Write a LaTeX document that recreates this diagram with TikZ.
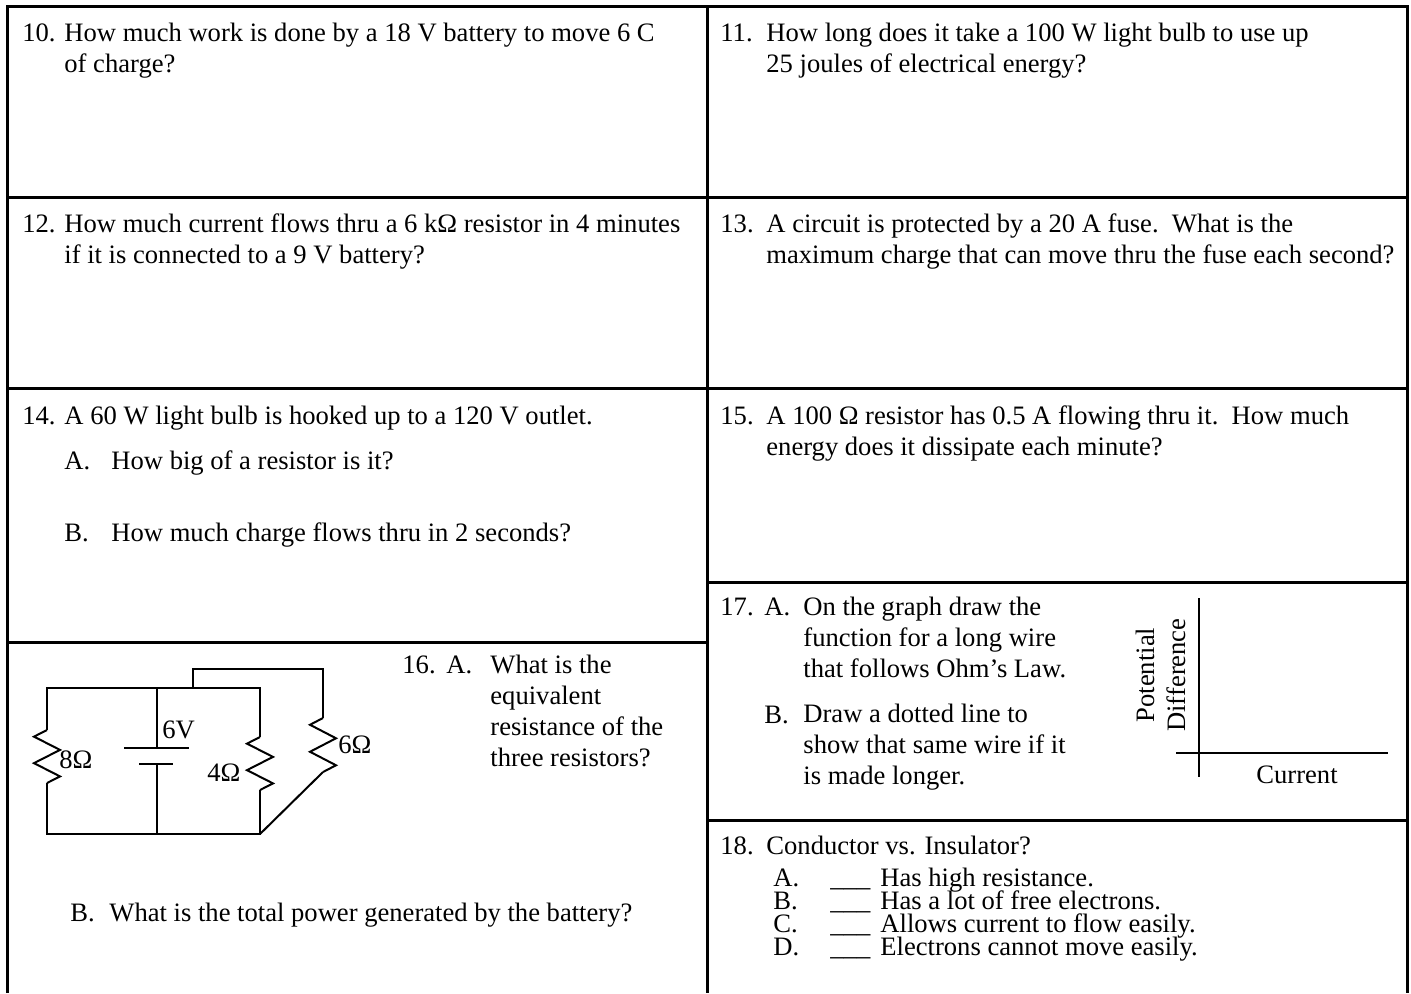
\documentclass[tikz,border=0pt]{standalone}
\usepackage{fontspec}
\setmainfont{Liberation Serif}
\usetikzlibrary{positioning}
\tikzset{
  qtext/.style = {anchor=base west, inner sep=0pt, align=left,
    font=\fontsize{13.3}{15.5}\selectfont},% question text (base = last line)
  frame/.style = {line width=1.5pt},% worksheet grid
  wire/.style = {line width=1pt, line join=miter},% circuit wires
  axis/.style = {line width=1.2pt}% graph axes
}
% zigzag resistor: x, top, bottom
\newcommand{\zigres}[3]{%
  \draw[wire] (#1,#2) -- ({#1-13},{#2+(#3-#2)/8}) -- ({#1+13},{#2+3*(#3-#2)/8})
    -- ({#1-13},{#2+5*(#3-#2)/8}) -- ({#1+13},{#2+7*(#3-#2)/8}) -- (#1,#3);}

\begin{document}
\begin{tikzpicture}[x=0.5pt,y=-0.5pt]
        \useasboundingbox (0,0) rectangle (1411,993);
        % grid
        \draw[frame] (7,993) -- (7,6) -- (1407,6) -- (1407,993);
        \draw[frame] (707,6) -- (707,993);
        \draw[frame] (7,197) -- (1407,197);
        \draw[frame] (7,388) -- (1407,388);
        \draw[frame] (7,642) -- (707,642);
        \draw[frame] (707,582) -- (1407,582);
        \draw[frame] (707,820) -- (1407,820);
        % 10 and 11
        \node[qtext] (n10) at (22,41) {10.};
        \node[qtext] (t10) at (64,72) {How much work is done by a 18 V battery to move 6 C\\of charge?};
        \node[qtext] (n11) at (720,41) {11.};
        \node[qtext] (t11) at (766,72) {How long does it take a 100 W light bulb to use up\\25 joules of electrical energy?};
        % 12 and 13
        \node[qtext] (n12) at (22,232) {12.};
        \node[qtext] (t12) at (64,263) {How much current flows thru a 6 kΩ resistor in 4 minutes\\if it is connected to a 9 V battery?};
        \node[qtext] (n13) at (720,232) {13.};
        \node[qtext] (t13) at (766,263) {A circuit is protected by a 20 A fuse.\ \ What is the\\maximum charge that can move thru the fuse each second?};
        % 14 and 15
        \node[qtext] (n14) at (22,424) {14.};
        \node[qtext] (t14) at (64,424) {A 60 W light bulb is hooked up to a 120 V outlet.};
        \node[qtext] (a14) at (64,469) {A.};
        \node[qtext] (ta14) at (111,469) {How big of a resistor is it?};
        \node[qtext] (b14) at (64,541) {B.};
        \node[qtext] (tb14) at (111,541) {How much charge flows thru in 2 seconds?};
        \node[qtext] (n15) at (720,424) {15.};
        \node[qtext] (t15) at (766,455) {A 100 Ω resistor has 0.5 A flowing thru it.\ \ How much\\energy does it dissipate each minute?};
        % 16, circuit
        \draw[wire] (47,730) -- (47,688) -- (260,688) -- (260,737);
        \zigres{260}{737}{790}
        \draw[wire] (260,790) -- (260,834) -- (47,834) -- (47,783);
        \zigres{47}{730}{783}
        \draw[wire] (157,688) -- (157,748) (124,748) -- (189,748)
          (139,764) -- (173,764) (157,764) -- (157,834);
        \draw[wire] (193,688) -- (193,669) -- (323,669) -- (323,718);
        \zigres{323}{718}{772}
        \draw[wire] (323,772) -- (260,834);
        \node[qtext] (r8) at (59,768) {8Ω};
        \node[qtext] (bat) at (162,738) {6V};
        \node[qtext] (r4) at (207,781) {4Ω};
        \node[qtext] (r6) at (338,753) {6Ω};
        \node[qtext] (n16) at (402,673) {16.};
        \node[qtext] (a16) at (446,673) {A.};
        \node[qtext] (t16) at (490,766) {What is the\\equivalent\\resistance of the\\three resistors?};
        \node[qtext] (b16) at (70,921) {B.};
        \node[qtext] (tb16) at (109,921) {What is the total power generated by the battery?};
        % 17, graph
        \node[qtext] (n17) at (720,615) {17.};
        \node[qtext] (a17) at (764,615) {A.};
        \node[qtext] (ta17) at (803,677) {On the graph draw the\\function for a long wire\\that follows Ohm’s Law.};
        \node[qtext] (b17) at (764,723) {B.};
        \node[qtext] (tb17) at (803,784) {Draw a dotted line to\\show that same wire if it\\is made longer.};
        \draw[axis] (1199,598) -- (1199,777);
        \draw[axis] (1176,753) -- (1388,753);
        \node[qtext, anchor=center, align=center, rotate=90] (vlab) at (1161,675) {Potential\\Difference};
        \node[qtext, anchor=center] (ilab) at (1297,775) {Current};
        % 18
        \node[qtext] (n18) at (720,854) {18.};
        \node[qtext] (t18) at (766,854) {Conductor vs. Insulator?};
        \foreach \ltr/\txt [count=\i from 0] in {A./Has high resistance.,
            B./Has a lot of free electrons., C./Allows current to flow easily.,
            D./Electrons cannot move easily.}{
          \node[qtext] (l\i) at (773,886+23*\i) {\ltr};
          \node[qtext] (u\i) at (830,886+23*\i) {\_\_\_};
          \node[qtext] (s\i) at (880,886+23*\i) {\txt};
        }
\end{tikzpicture}
\end{document}
